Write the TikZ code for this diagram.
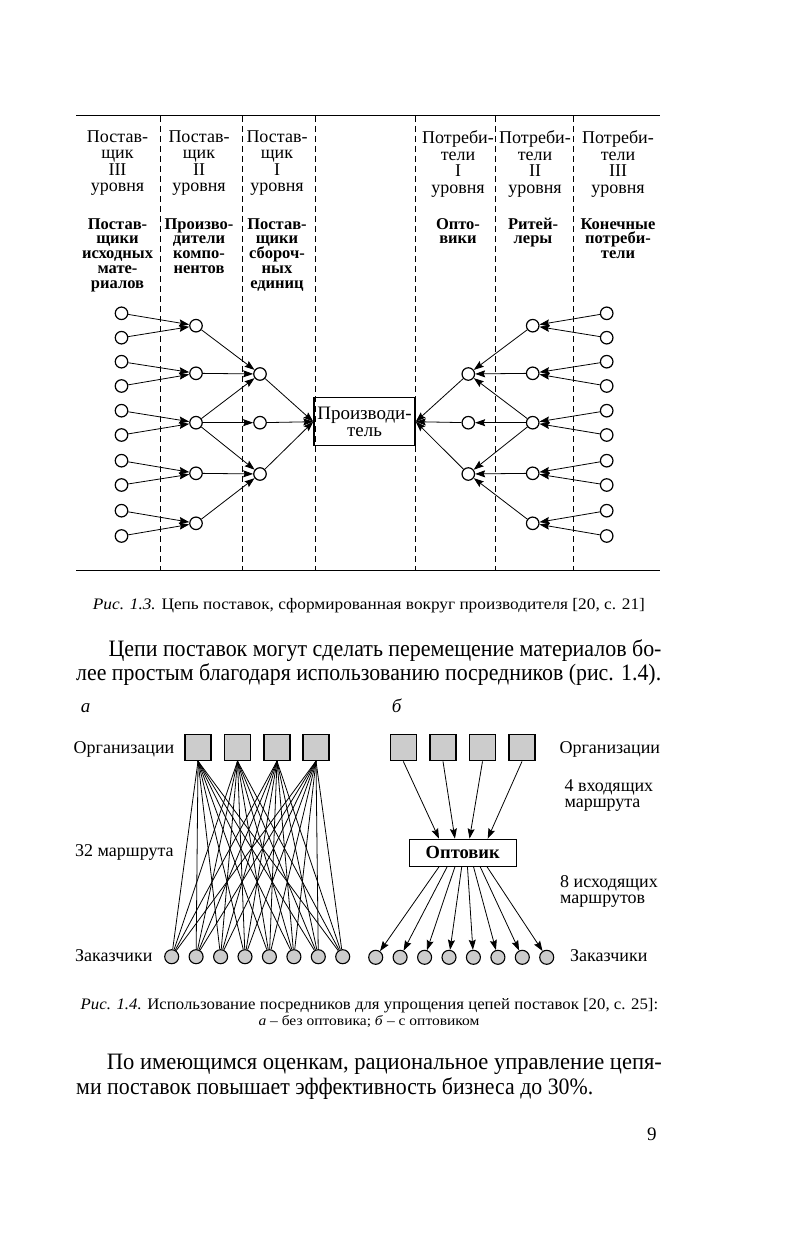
\documentclass[tikz,border=0pt]{standalone}
\usepackage{fontspec}
\usepackage{graphicx}
\setmainfont{Liberation Serif}
\usetikzlibrary{arrows.meta,calc}
\newcommand{\ph}{\vphantom{Й}}
\begin{document}
\begin{tikzpicture}[x=1pt,y=-1pt,
  hdr/.style={align=center,inner sep=0pt,anchor=north,font=\fontsize{18}{16.5}\selectfont},
  bhdr/.style={align=center,inner sep=0pt,anchor=north,font=\bfseries\fontsize{16.5}{14.7}\selectfont},
  oc/.style={circle,draw,line width=1.2pt,minimum size=12.5pt,inner sep=0pt,fill=white},
  gc/.style={circle,draw,line width=1.1pt,minimum size=14pt,inner sep=0pt,fill=gray!40},
  gsq/.style={draw,line width=1.2pt,fill=gray!40,minimum size=26pt,inner sep=0pt},
  arr/.style={-{Stealth[length=10pt,width=7pt,inset=1.5pt]},line width=0.8pt},
  ln/.style={line width=0.8pt},
  dsh/.style={dash pattern=on 6pt off 4pt,line width=0.9pt},
  rule/.style={line width=1pt},
  txt/.style={inner sep=0pt,anchor=base west},
  lbl/.style={inner sep=0pt,anchor=base west,font=\fontsize{18}{16}\selectfont,align=left},
]
\fill[white] (0,0) rectangle (786,1241);
\useasboundingbox (0,0) rectangle (786,1241);

% ---------- Fig 1.3 ----------
\draw[rule] (76,116) -- (660,116);
\draw[rule] (76,570) -- (660,570);
\foreach \x in {160,242,315,415,495,573} \draw[dsh] (\x,116) -- (\x,570);

\node[hdr] (h1) at (117.5,130.5) {Постав-\\щик\\III\\уровня};
\node[hdr] (h2) at (199,130.5) {Постав-\\щик\\II\\уровня};
\node[hdr] (h3) at (277,130.5) {Постав-\\щик\\I\\уровня};
\node[hdr] (h5) at (458,130.5) {Потреби-\\тели\\I\\уровня};
\node[hdr] (h6) at (535,130.5) {Потреби-\\тели\\II\\уровня};
\node[hdr] (h7) at (618,130.5) {Потреби-\\тели\\III\\уровня};

\node[bhdr] (g1) at (117.5,215) {\ph Постав-\\щики\\исходных\\мате-\\риалов};
\node[bhdr] (g2) at (199,215) {\ph Произво-\\дители\\компо-\\нентов};
\node[bhdr] (g3) at (277,215) {\ph Постав-\\щики\\сбороч-\\ных\\единиц};
\node[bhdr] (g5) at (458,215) {\ph Опто-\\вики};
\node[bhdr] (g6) at (533,215) {\ph Ритей-\\леры};
\node[bhdr] (g7) at (618,215) {\ph Конечные\\потреби-\\тели};

\foreach [count=\i] \y in {313.3,337.7,361.7,386,410.7,435,460.7,485,510.7,536} {
  \node[oc] (a\i) at (121.5,\y) {};
  \node[oc] (f\i) at (606.7,\y) {};
}
\foreach [count=\i] \y in {325.7,373.3,422.7,473.3,523.3} {
  \node[oc] (b\i) at (196,\y) {};
  \node[oc] (e\i) at (532.7,\y) {};
}
\foreach [count=\i] \y in {374,422.7,474} {
  \node[oc] (c\i) at (260,\y) {};
  \node[oc] (d\i) at (468.3,\y) {};
}
\node[draw,line width=1.5pt,minimum width=101pt,minimum height=48pt,inner sep=0pt,align=center,font=\fontsize{19}{16.7}\selectfont] (P) at (364.5,421.7) {Производи-\\тель};

\foreach \i/\j in {1/1,2/1,3/2,4/2,5/3,6/3,7/4,8/4,9/5,10/5} {
  \draw[arr] (a\i) -- (b\j);
  \draw[arr] (f\i) -- (e\j);
}
\foreach \i/\j in {1/1,2/1,3/1,3/2,3/3,4/3,5/3} {
  \draw[arr] (b\i) -- (c\j);
  \draw[arr] (e\i) -- (d\j);
}
\foreach \j in {1,2,3} {
  \draw[arr] (c\j) -- (P.west);
  \draw[arr] (d\j) -- (P.east);
}

\node[txt] (cap1) at (92.7,609) {\resizebox{552pt}{\height}{\fontsize{16}{18}\selectfont\textit{Рис. 1.3.} Цепь поставок, сформированная вокруг производителя [20, с. 21]}};

\node[txt] (p1) at (108.3,656) {\resizebox{553pt}{\height}{\fontsize{23.5}{24}\selectfont Цепи поставок могут сделать перемещение материалов бо-}};
\node[txt] (p2) at (76,680.5) {\resizebox{585pt}{\height}{\fontsize{23.5}{24}\selectfont лее простым благодаря использованию посредников (рис. 1.4).}};

% ---------- Fig 1.4 ----------
\node[txt] (la) at (80.7,712) {\fontsize{19}{20}\selectfont\itshape а};
\node[txt] (lb) at (391.7,712) {\fontsize{19}{20}\selectfont\itshape б};

\foreach [count=\j] \x in {198,237.5,277,316} \node[gsq] (s\j) at (\x,747.5) {};
\foreach [count=\i] \x in {171.7,196.1,220.6,245,269.4,293.9,318.3,342.7} \node[gc] (k\i) at (\x,956.7) {};
\foreach \j in {1,...,4} \foreach \i in {1,...,8} \draw[ln] (s\j.south) -- (k\i);

\node[lbl] (oa) at (73.5,753.3) {Организации};
\node[lbl] (ra) at (75,856.7) {32 маршрута};
\node[lbl] (za) at (75,961) {Заказчики};

\foreach [count=\j] \x in {403.3,443,482.5,522} \node[gsq] (t\j) at (\x,747.8) {};
\node[draw,line width=1.2pt,minimum width=107pt,minimum height=27pt,inner sep=0pt,font=\bfseries\fontsize{18.5}{20}\selectfont] (O) at (462.7,852.7) {Оптовик};
\foreach [count=\i] \x in {375.7,400.1,424.6,449,473.4,497.9,522.3,546.7} \node[gc] (m\i) at (\x,957.3) {};

\foreach [count=\j] \f in {0.281,0.428,0.563,0.731} {
  \coordinate (in\j) at ($(O.north west)!\f!(O.north east)$);
  \draw[arr] (t\j.south) -- (in\j);
}
\foreach [count=\i] \f in {0.281,0.356,0.428,0.491,0.544,0.600,0.662,0.725} {
  \coordinate (out\i) at ($(O.south west)!\f!(O.south east)$);
  \draw[arr] (out\i) -- (m\i);
}

\node[lbl] (ob) at (559.3,753.3) {Организации};
\node[lbl] (vb) at (564.3,807.5) {4 входящих\\маршрута};
\node[lbl] (ib) at (560,903) {8 исходящих\\маршрутов};
\node[lbl] (zb) at (570,961.5) {Заказчики};

\node[txt] (cap2) at (80.5,1009.5) {\resizebox{577.5pt}{\height}{\fontsize{16}{18}\selectfont\textit{Рис. 1.4.} Использование посредников для упрощения цепей поставок [20, с. 25]:}};
\node[txt] (cap2b) at (258.3,1025) {\resizebox{221pt}{\height}{\fontsize{14}{16}\selectfont\textit{а} – без оптовика; \textit{б} – с оптовиком}};

\node[txt] (q1) at (106.7,1069) {\resizebox{555pt}{\height}{\fontsize{23.5}{24}\selectfont По имеющимся оценкам, рациональное управление цепя-}};
\node[txt] (q2) at (76,1094) {\resizebox{517pt}{\height}{\fontsize{23.5}{24}\selectfont ми поставок повышает эффективность бизнеса до 30\%.}};

\node[txt] (pg) at (647,1140) {\fontsize{19}{20}\selectfont 9};
\end{tikzpicture}
\end{document}
